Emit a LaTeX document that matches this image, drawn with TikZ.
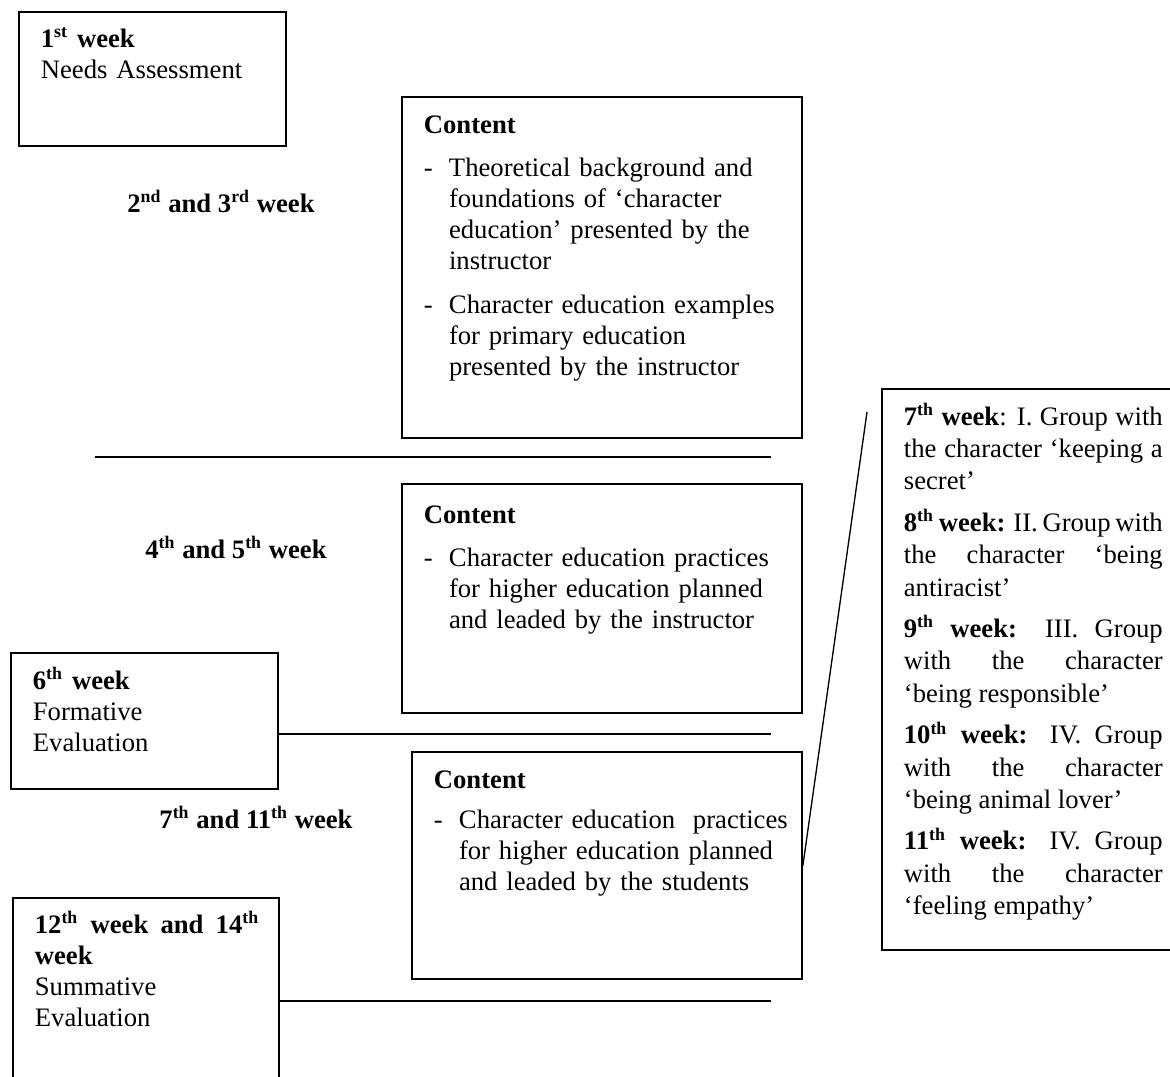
\documentclass[tikz,border=0pt]{standalone}
\usepackage{fontspec}
\setmainfont{Liberation Serif}
\usetikzlibrary{fit,positioning}
\tikzset{every picture/.style={line width=0.8pt, x=0.45pt, y=-0.45pt}}
\tikzset{box/.style={draw, inner sep=0pt}}
\tikzset{txt/.style={anchor=base west, inner sep=0pt, align=left, font=\fontsize{12}{14}\selectfont}}
\tikzset{wklabel/.style={anchor=base, inner sep=0pt, font=\fontsize{12}{14}\selectfont\bfseries}}
\newcommand{\dashitem}{\par\hangindent=11.3pt\hangafter=1\noindent\makebox[11.3pt][l]{-}}
\newcommand{\ord}[2]{#1\textsuperscript{#2}}

\begin{document}
\begin{tikzpicture}
\useasboundingbox (0,0) rectangle (1170,1076);
% boxes
\node[box, fit={(19,12) (286,146)}] (wk1) {};
\node[box, fit={(402,97) (802,438)}] (c1) {};
\node[box, fit={(402,484) (802,713)}] (c2) {};
\node[box, fit={(11,653) (278,789)}] (wk6) {};
\node[box, fit={(412,752) (802,979)}] (c3) {};
\node[box, fit={(13,898) (279,1100)}] (wk12) {};
\node[box, fit={(882,389) (1190,950)}] (grp) {};
% texts
\node[txt, text width=110pt] (wk1t) at (40,47) {\textbf{\ord{1}{st} week}\\Needs Assessment};
\node[txt, text width=110pt] (wk6t) at (32,689) {\textbf{\ord{6}{th} week}\\Formative\\Evaluation};
\node[txt, text width=101pt, align=justify] (wk12t) at (34,933)
  {\textbf{\ord{12}{th} week and \ord{14}{th}\linebreak week}\\Summative\\Evaluation};
\node[wklabel] (lab23) at (221,212) {\ord{2}{nd} and \ord{3}{rd} week};
\node[wklabel] (lab45) at (236,558) {\ord{4}{th} and \ord{5}{th} week};
\node[wklabel] (lab711) at (256,828) {\ord{7}{th} and \ord{11}{th} week};
\node[txt, text width=165pt] (c1t) at (423,133) {\setlength{\parskip}{5.5pt}\textbf{Content}
  \dashitem Theoretical background and\newline foundations of ‘character\newline education’ presented by the\newline instructor
  \dashitem Character education examples\newline for primary education\newline presented by the instructor\par};
\node[txt, text width=165pt] (c2t) at (423,523) {\setlength{\parskip}{5.5pt}\textbf{Content}
  \dashitem Character education practices\newline for higher education planned\newline and leaded by the instructor\par};
\node[txt, text width=165pt] (c3t) at (433,788) {\setlength{\parskip}{4pt}\textbf{Content}
  \dashitem Character education~ practices\newline for higher education planned\newline and leaded by the students\par};
\node[txt, text width=116.5pt, align=justify, font=\fontsize{12}{14.6}\selectfont] (grpt) at (903,425)
  {\setlength{\parskip}{4pt}\textbf{\ord{7}{th} week}: I. Group with\linebreak the character ‘keeping a\linebreak secret’\par
  \textbf{\ord{8}{th} week:} II. Group with\linebreak the character ‘being\linebreak antiracist’\par
  \textbf{\ord{9}{th} week:} III. Group\linebreak with the character\linebreak ‘being responsible’\par
  \textbf{\ord{10}{th} week:} IV. Group\linebreak with the character\linebreak ‘being animal lover’\par
  \textbf{\ord{11}{th} week:} IV. Group\linebreak with the character\linebreak ‘feeling empathy’\par};
% lines
\coordinate (l1a) at (95,457);
\coordinate (l1b) at (771,457);
\coordinate (l2) at (771,734);
\coordinate (l3) at (771,1001);
\coordinate (dg) at (867,412);
\draw (l1a) -- (l1b);
\draw (wk6.east |- l2) -- (l2);
\draw (wk12.east |- l3) -- (l3);
\draw[line width=0.6pt] (dg) -- (c3.east);
\end{tikzpicture}
\end{document}
